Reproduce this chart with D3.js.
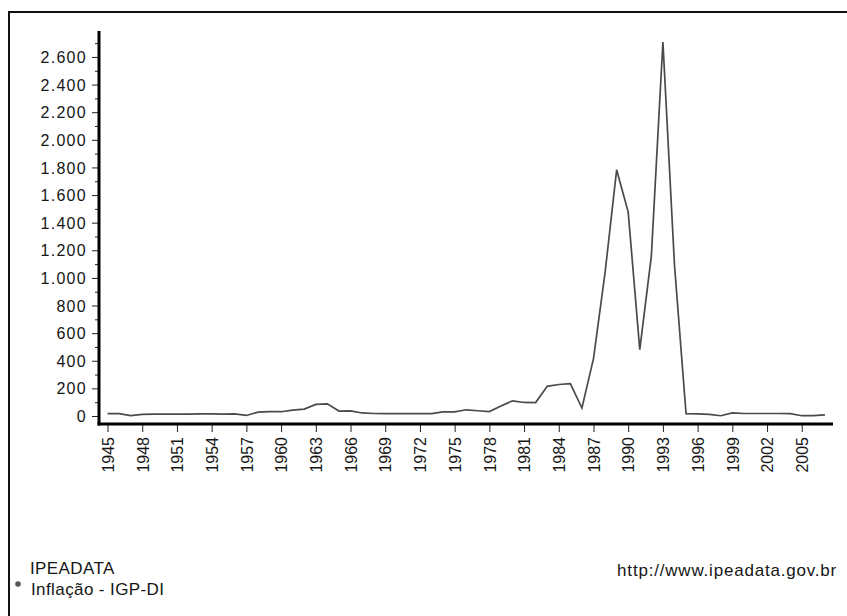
<!DOCTYPE html>
<html>
<head>
<meta charset="utf-8">
<script src="https://cdn.jsdelivr.net/npm/d3@7"></script>
<style>
  html, body { margin: 0; padding: 0; background: #fff; }
  svg { display: block; }
  text { font-family: "Liberation Sans", Arial, sans-serif; fill: #161616; }
</style>
</head>
<body>
<svg id="chart" width="847" height="616"></svg>
<script>
// ---- data (IGP-DI annual inflation, %) ----
const years = [1945,1946,1947,1948,1949,1950,1951,1952,1953,1954,1955,1956,1957,1958,1959,
  1960,1961,1962,1963,1964,1965,1966,1967,1968,1969,1970,1971,1972,1973,1974,1975,1976,1977,
  1978,1979,1980,1981,1982,1983,1984,1985,1986,1987,1988,1989,1990,1991,1992,1993,1994,1995,
  1996,1997,1998,1999,2000,2001,2002,2003,2004,2005,2006,2007];
const inflation = [17,17,3,12,14,14,14,14,15,15,14,15,4,28,32,
  31,42,50,84,88,36,37,22,18,17,17,17,17,17,30,30,45,38,
  32,72,110,98,97,215,228,234,58,415.8,1037.6,1782.9,1476.7,480.2,1157.8,2708.2,1093.9,17,
  16,12,2,22,18,18,18,18,17,2,3,8];
const xTickYears = [1945,1948,1951,1954,1957,1960,1963,1966,1969,1972,1975,1978,1981,1984,1987,1990,1993,1996,1999,2002,2005];
const yTickValues = [0,200,400,600,800,1000,1200,1400,1600,1800,2000,2200,2400,2600];
const yMinorValues = [100,300,500,700,900,1100,1300,1500,1700,1900,2100,2300,2500,2700];
const sourceLabel = "IPEADATA";
const seriesLabel = "Inflação - IGP-DI";
const urlLabel = "http://www.ipeadata.gov.br";

const svg = d3.select("#chart");

// outer frame (left & top edges)
svg.append("path")
  .attr("d", "M9,616 L9,12 L847,12")
  .attr("fill", "none").attr("stroke", "#111").attr("stroke-width", 2);

const x = d3.scaleLinear().domain([1944.09, 2007.7]).range([97, 833]);
const y = d3.scaleLinear().domain([0, 2788]).range([416, 31]);
const axisY = 424;

const ptBR = d3.formatLocale({decimal: ",", thousands: ".", grouping: [3], currency: ["R$", ""]});
const fmt = ptBR.format(",d");

// y axis minor ticks
svg.append("g").attr("transform", "translate(99,0)")
  .call(d3.axisLeft(y).tickValues(yMinorValues).tickSize(4).tickFormat(""))
  .call(g => g.select(".domain").remove())
  .call(g => g.selectAll("line").attr("stroke", "#222"));

// y axis major ticks + labels
svg.append("g").attr("transform", "translate(99,0)")
  .call(d3.axisLeft(y).tickValues(yTickValues).tickSize(7).tickPadding(5).tickFormat(fmt))
  .call(g => g.select(".domain").remove())
  .call(g => g.selectAll("line").attr("stroke", "#222"))
  .call(g => g.selectAll("text")
    .style("font-family", "'Liberation Sans', Arial, sans-serif")
    .style("font-size", "16px").style("letter-spacing", "1.3px")
    .attr("fill", "#161616").attr("dy", "0.35em"));

// x axis ticks + labels
svg.append("g").attr("transform", `translate(0,${axisY + 1})`)
  .call(d3.axisBottom(x).tickValues(xTickYears).tickSize(7).tickFormat(d3.format("d")))
  .call(g => g.select(".domain").remove())
  .call(g => g.selectAll("line").attr("stroke", "#222"))
  .call(g => g.selectAll("text")
    .style("font-family", "'Liberation Sans', Arial, sans-serif")
    .style("font-size", "16px")
    .attr("fill", "#161616")
    .attr("transform", "rotate(-90)")
    .attr("x", -12).attr("y", 0).attr("dy", "0.36em")
    .style("text-anchor", "end"));

// axis lines (thick)
svg.append("line")
  .attr("x1", 99).attr("x2", 99).attr("y1", y.range()[1]).attr("y2", axisY + 1.5)
  .attr("stroke", "#000").attr("stroke-width", 3);
svg.append("line")
  .attr("x1", 97.5).attr("x2", x.range()[1]).attr("y1", axisY).attr("y2", axisY)
  .attr("stroke", "#000").attr("stroke-width", 3);

// data line
const data = years.map((yr, i) => ({year: yr, value: inflation[i]}));
svg.append("path")
  .datum(data)
  .attr("fill", "none")
  .attr("stroke", "#4a4a4a")
  .attr("stroke-width", 1.7)
  .attr("stroke-linejoin", "miter")
  .attr("d", d3.line().x(d => x(d.year)).y(d => y(d.value)));

// legend / footer
svg.append("text").attr("x", 30).attr("y", 574)
  .style("font-size", "17px").style("letter-spacing", "0.4px").text(sourceLabel);
svg.append("circle").attr("cx", 18).attr("cy", 584).attr("r", 2.8).attr("fill", "#555");
svg.append("text").attr("x", 31).attr("y", 595)
  .style("font-size", "17px").style("letter-spacing", "0.4px").text(seriesLabel);
svg.append("text").attr("x", 837).attr("y", 576)
  .attr("text-anchor", "end")
  .style("font-size", "17px").style("letter-spacing", "0.8px").text(urlLabel);
</script>
</body>
</html>
